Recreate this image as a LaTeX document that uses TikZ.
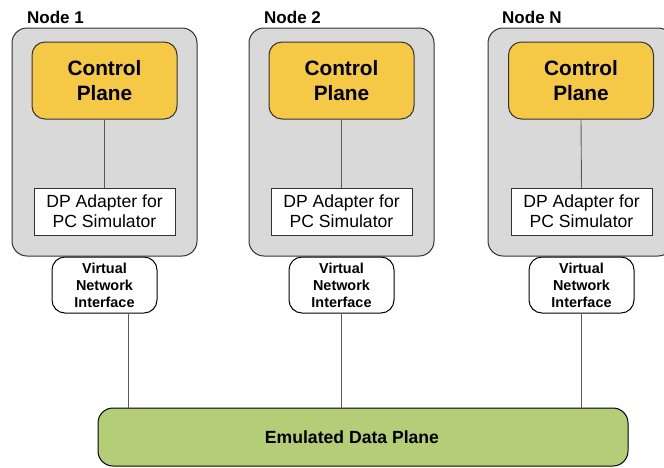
\documentclass[tikz,border=0pt]{standalone}
\usepackage{fontspec}
\setmainfont{Liberation Sans}
\usetikzlibrary{calc}
\definecolor{hostgray}{RGB}{217,217,217}
\definecolor{cpyellow}{RGB}{245,200,70}
\definecolor{dpgreen}{RGB}{179,206,119}
\definecolor{edge}{RGB}{50,50,50}
\definecolor{wire}{RGB}{90,90,90}
\tikzset{
  host/.style={draw=edge, line width=1pt, fill=hostgray, rounded corners=15pt,
    minimum width=185pt, minimum height=228pt, inner sep=0pt},
  ctrl/.style={draw=edge, line width=1pt, fill=cpyellow, rounded corners=13pt,
    minimum width=145pt, minimum height=77pt, inner sep=0pt, align=center,
    font=\fontsize{20.8}{24.5}\selectfont\bfseries},
  adapter/.style={draw=edge, line width=0.8pt, fill=white,
    minimum width=141pt, minimum height=47pt, inner sep=0pt, align=center,
    font=\fontsize{17.6}{20}\selectfont},
  vni/.style={draw=black, line width=1pt, fill=white, rounded corners=13pt,
    minimum width=105pt, minimum height=56pt, inner sep=0pt, align=center,
    font=\fontsize{14.4}{17}\selectfont\bfseries},
  dataplane/.style={draw=black, line width=1pt, fill=dpgreen, rounded corners=15pt,
    minimum width=530pt, minimum height=58pt, inner sep=0pt},
  dplabel/.style={inner sep=0pt, font=\fontsize{17.6}{20}\selectfont\bfseries},
  hostlabel/.style={anchor=west, inner sep=0pt, font=\fontsize{17}{20}\selectfont\bfseries},
  wireline/.style={draw=wire, line width=0.9pt}
}
\begin{document}
\begin{tikzpicture}[x=1pt, y=-1pt]
\useasboundingbox (0,0) rectangle (664,467);
\clip (0,0) rectangle (664,467);

% node 1
\node[host] (h1) at (104.5,142) {};
\node[hostlabel] (l1) at (27,17) {Node 1};
\node[ctrl] (cp1) at (104.5,80.5) {Control\\Plane};
\node[adapter] (ad1) at (104.5,211.5) {DP Adapter for\\PC Simulator};
\node[vni] (v1) at (104.5,285) {Virtual\\Network\\Interface};

% node 2
\node[host] (h2) at (341.5,142) {};
\node[hostlabel] (l2) at (264,17) {Node 2};
\node[ctrl] (cp2) at (341.5,80.5) {Control\\Plane};
\node[adapter] (ad2) at (341.5,211.5) {DP Adapter for\\PC Simulator};
\node[vni] (v2) at (341.5,285) {Virtual\\Network\\Interface};

% node N
\node[host] (h3) at (580.5,142) {};
\node[hostlabel] (l3) at (502,17) {Node N};
\node[ctrl] (cp3) at (581,80.5) {Control\\Plane};
\node[adapter] (ad3) at (581.5,211.5) {DP Adapter for\\PC Simulator};
\node[vni] (v3) at (581.5,285) {Virtual\\Network\\Interface};

% shared data plane
\node[dataplane] (dp) at (363,437) {};
\node[dplabel] (dpt) at (352,437) {Emulated Data Plane};

% control plane to adapter
\draw[wireline] (cp1.south) -- (ad1.north);
\draw[wireline] (cp2.south) -- (ad2.north);
\draw[wireline] (cp3.south) -- (ad3.north);

% interfaces to data plane
\coordinate (t1) at ($(v1.south)+(23.5,0)$);
\draw[wireline] (t1) -- (t1 |- dp.north);
\draw[wireline] (v2.south) -- (v2.south |- dp.north);
\draw[wireline] (v3.south) -- (v3.south |- dp.north);
\end{tikzpicture}
\end{document}
